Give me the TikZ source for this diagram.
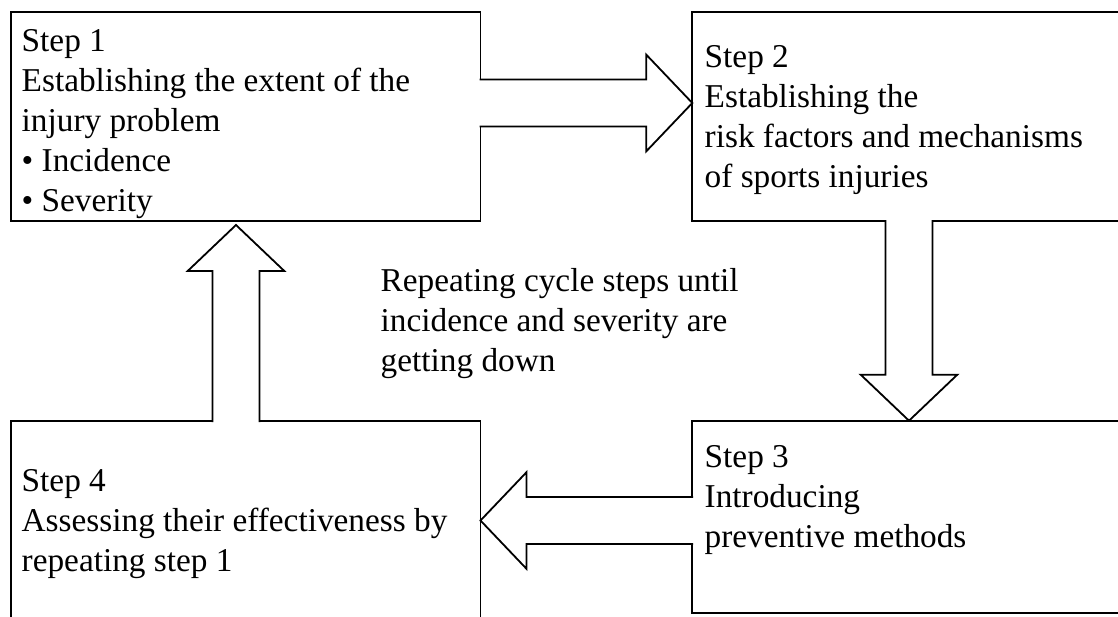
\documentclass[tikz,border=0pt]{standalone}
\usepackage{fontspec}
\setmainfont{Liberation Serif}
\usetikzlibrary{calc}

\tikzset{
	blockarrow/.style={%
		draw,
		fill=white,
		line width=1.8pt,
		line join=miter,
		to path={%
			($(\tikztostart)!23.5pt!90:(\tikztotarget)$)
			-- ($($(\tikztotarget)!46pt!(\tikztostart)$)!23.5pt!-90:(\tikztostart)$)
			-- ($($(\tikztotarget)!46pt!(\tikztostart)$)!48.3pt!-90:(\tikztostart)$)
			-- (\tikztotarget)
			-- ($($(\tikztotarget)!46pt!(\tikztostart)$)!48.3pt!90:(\tikztostart)$)
			-- ($($(\tikztotarget)!46pt!(\tikztostart)$)!23.5pt!90:(\tikztostart)$)
			-- ($(\tikztostart)!23.5pt!-90:(\tikztotarget)$)
		}
	}
}

\begin{document}
\begin{tikzpicture}[%
		x=1pt, y=-1pt,
		stepbox/.style={%
			draw,
			rectangle,
			line width=1.8pt,
			inner sep=0pt,
			outer sep=0pt,
			anchor=north west
		},
		steptext/.style={%
			anchor=north west,
			inner sep=0pt,
			align=left,
			font=\fontsize{33.3}{40}\selectfont
		}
	]

	\useasboundingbox (0, 0) rectangle (1118, 617);
	\clip (0, 0) rectangle (1118, 617);

	\node[stepbox, minimum width=469.8pt, minimum height=208.7pt] (step1) at (10.7, 12) {};
	\node[stepbox, minimum width=432.7pt, minimum height=209pt] (step2) at (692.3, 12) {};
	\node[stepbox, minimum width=432.7pt, minimum height=192.6pt] (step3) at (692.3, 420.7) {};
	\node[stepbox, minimum width=469.8pt, minimum height=203.7pt] (step4) at (10.7, 421.3) {};

	\node[steptext] (text1) at (21.5, 29.2) {%
		Step 1\\
		Establishing the extent of the\\
		injury problem\\
		• Incidence\\
		• Severity
	};

	\node[steptext] (text2) at (704.5, 45.5) {%
		Step 2\\
		Establishing the\\
		risk factors and mechanisms\\
		of sports injuries
	};

	\node[steptext] (text3) at (704.5, 445.2) {%
		Step 3\\
		Introducing\\
		preventive methods
	};

	\node[steptext] (text4) at (21.5, 469.2) {%
		Step 4\\
		Assessing their effectiveness by\\
		repeating step 1
	};

	\node[steptext] (cycle) at (380.5, 268.5) {%
		Repeating cycle steps until\\
		incidence and severity are\\
		getting down
	};

	\coordinate (a12s) at ($(step1.east |- 0, 103) + (-0.9, 0)$);
	\coordinate (a12t) at (step2.west |- 0, 103);
	\coordinate (a23s) at ($(909, 0 |- step2.south) + (0, -0.9)$);
	\coordinate (a23t) at (909, 0 |- step3.north);
	\coordinate (a34s) at ($(step3.west |- 0, 520.5) + (0.9, 0)$);
	\coordinate (a34t) at (step4.east |- 0, 520.5);
	\coordinate (a41s) at ($(236, 0 |- step4.north) + (0, 0.9)$);
	\coordinate (a41t) at (236, 225);

	\draw[blockarrow] (a12s) to (a12t);
	\draw[blockarrow] (a23s) to (a23t);
	\draw[blockarrow] (a34s) to (a34t);
	\draw[blockarrow] (a41s) to (a41t);

	% \node (goal) at (560, 300) {};
\end{tikzpicture}
\end{document}
